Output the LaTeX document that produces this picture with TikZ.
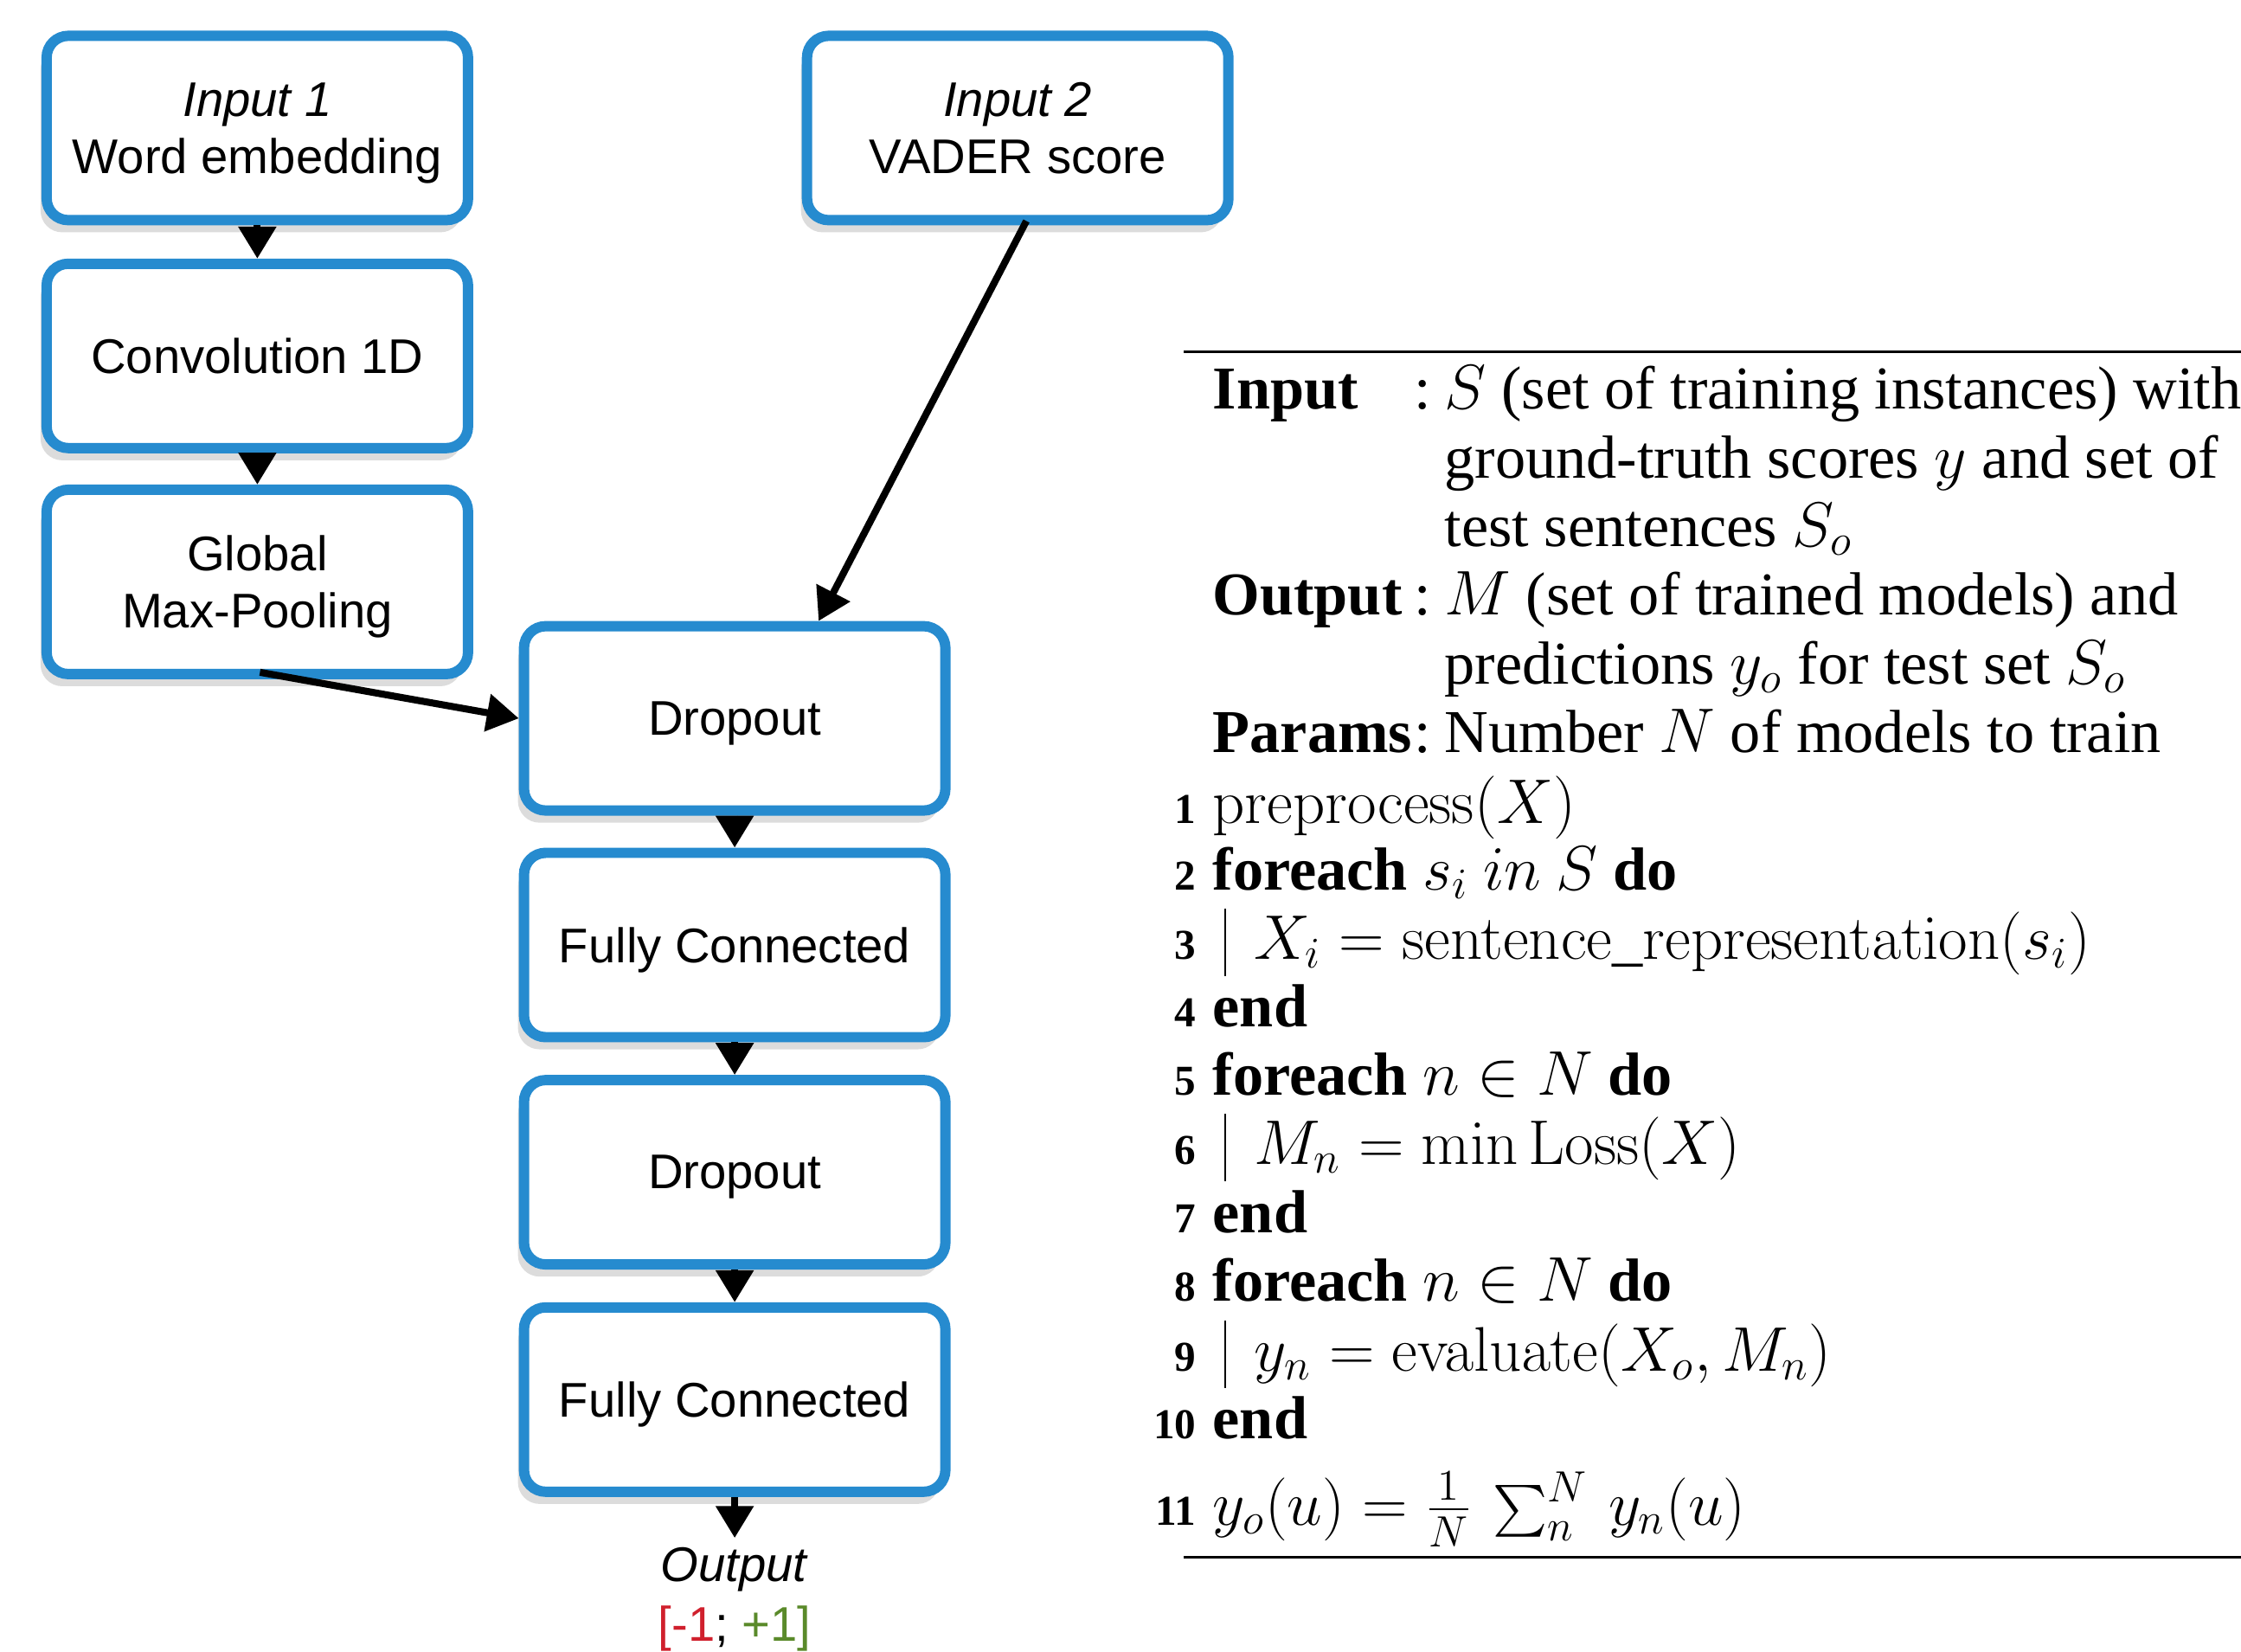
\documentclass[tikz,border=0pt]{standalone}
\usepackage{graphicx}
\usepackage[no-math]{fontspec}
\setmainfont{Liberation Serif}
\newfontfamily\sansf{Liberation Sans}
\usetikzlibrary{arrows.meta,shadows,calc}
\definecolor{boxblue}{RGB}{38,139,207}
\definecolor{outred}{RGB}{208,32,45}
\definecolor{outgreen}{RGB}{90,138,42}
\begin{document}
\begin{tikzpicture}[x=1cm,y=1cm,
  layer/.style={draw=boxblue, line width=3.4pt, rounded corners=0.25cm, fill=white,
    minimum width=4.87cm, minimum height=2.13cm, align=center, inner sep=0pt, text depth=0pt,
    font=\sansf\fontsize{16}{18.8}\selectfont,
    drop shadow={shadow xshift=-2pt, shadow yshift=-4pt, opacity=0.28}},
  arr/.style={line width=2.3pt, -{Triangle[width=12pt,length=10.5pt]}},
  alg/.style={anchor=base west, inner sep=0pt, font=\fontsize{20}{22}\selectfont},
  algb/.style={anchor=base west, inner sep=0pt, font=\bfseries\fontsize{20}{22}\selectfont},
  num/.style={anchor=base east, inner sep=0pt, font=\bfseries\fontsize{14}{16}\selectfont},
  outtxt/.style={anchor=base, inner sep=3pt, outer sep=0pt, font=\sansf\fontsize{16}{18.8}\selectfont},
  bar/.style={line width=0.4pt},
  rule/.style={line width=0.85pt}
]
\useasboundingbox (0,0) rectangle (25.9,-19.08);

% network boxes
\node[layer] (in1) at (2.974,-1.479) {\textit{Input 1}\\Word embedding};
\node[layer] (in2) at (11.762,-1.479) {\textit{Input 2}\\VADER score};
\node[layer] (conv) at (2.974,-4.113) {Convolution 1D};
\node[layer] (gmp) at (2.974,-6.724) {Global\\Max-Pooling};
\node[layer] (d1) at (8.491,-8.301) {Dropout};
\node[layer] (fc1) at (8.491,-10.92) {Fully Connected};
\node[layer] (d2) at (8.491,-13.546) {Dropout};
\node[layer] (fc2) at (8.491,-16.173) {Fully Connected};
\node[outtxt] (outl) at (8.491,-18.27) {\textit{Output}};
\node[outtxt, inner sep=0pt] (range) at (8.491,-18.96) {\textcolor{outred}{[-1}; \textcolor{outgreen}{+1]}};

% connectors
\draw[arr] (in1.south) -- (conv.north);
\draw[arr] (conv.south) -- (gmp.north);
\draw[arr] ($(gmp.south)+(0.03,0.08)$) -- (d1.west);
\draw[arr] ($(in2.south)+(0.1,0.05)$) -- ($(d1.north)+(0.97,0)$);
\draw[arr] (d1.south) -- (fc1.north);
\draw[arr] (fc1.south) -- (d2.north);
\draw[arr] (d2.south) -- (fc2.north);
\draw[arr] (fc2.south) -- (outl.north);

% algorithm
\draw[rule] (13.68,-4.06) coordinate (rtA) -- (25.9,-4.06) coordinate (rtB);
\draw[rule] (13.68,-17.99) coordinate (rbA) -- (25.9,-17.99) coordinate (rbB);

\node[algb] (kin) at (14.01,-4.72) {Input};
\node[alg] (cin) at (16.34,-4.72) {:};
\node[alg] (tin1) at (16.69,-4.72) {$S$ (set of training instances) with};
\node[alg] (tin2) at (16.69,-5.52) {ground-truth scores $y$ and set of};
\node[alg] (tin3) at (16.69,-6.31) {test sentences $S_o$};
\node[algb] (kout) at (14.01,-7.10) {Output};
\node[alg] (cout) at (16.34,-7.10) {:};
\node[alg] (tout1) at (16.69,-7.10) {$M$ (set of trained models) and};
\node[alg] (tout2) at (16.69,-7.90) {predictions $y_o$ for test set $S_o$};
\node[algb] (kpar) at (14.01,-8.69) {Params};
\node[alg] (cpar) at (16.34,-8.69) {:};
\node[alg] (tpar) at (16.69,-8.69) {Number $N$ of models to train};

\node[num] (n1) at (13.83,-9.51) {1};
\node[alg] (l1) at (14.01,-9.51) {$\mathrm{preprocess}(X)$};
\node[num] (n2) at (13.83,-10.28) {2};
\node[alg] (l2) at (14.01,-10.28) {\textbf{foreach} $s_i$ $in$ $S$ \textbf{do}};
\node[num] (n3) at (13.83,-11.08) {3};
\node[alg] (l3) at (14.49,-11.08) {$X_i = \mathrm{sentence\_representation}(s_i)$};
\node[num] (n4) at (13.83,-11.86) {4};
\node[alg] (l4) at (14.01,-11.86) {\textbf{end}};
\node[num] (n5) at (13.83,-12.65) {5};
\node[alg] (l5) at (14.01,-12.65) {\textbf{foreach} $n \in N$ \textbf{do}};
\node[num] (n6) at (13.83,-13.45) {6};
\node[alg] (l6) at (14.49,-13.45) {$M_n = \min \mathrm{Loss}(X)$};
\node[num] (n7) at (13.83,-14.24) {7};
\node[alg] (l7) at (14.01,-14.24) {\textbf{end}};
\node[num] (n8) at (13.83,-15.03) {8};
\node[alg] (l8) at (14.01,-15.03) {\textbf{foreach} $n \in N$ \textbf{do}};
\node[num] (n9) at (13.83,-15.84) {9};
\node[alg] (l9) at (14.49,-15.84) {$y_n = \mathrm{evaluate}(X_o, M_n)$};
\node[num] (n10) at (13.83,-16.62) {10};
\node[alg] (l10) at (14.01,-16.62) {\textbf{end}};
\node[num] (n11) at (13.83,-17.62) {11};
\node[alg] (l11) at (14.01,-17.62) {$y_o(u) = \frac{1}{N}\,\mathop{\raisebox{-4.3pt}{\scalebox{1.7}{$\sum$}}}\nolimits_n^N\, y_n(u)$};

\draw[bar] (14.16,-10.50) -- (14.16,-11.28);
\draw[bar] (14.16,-12.87) -- (14.16,-13.65);
\draw[bar] (14.16,-15.26) -- (14.16,-16.04);
\end{tikzpicture}
\end{document}
